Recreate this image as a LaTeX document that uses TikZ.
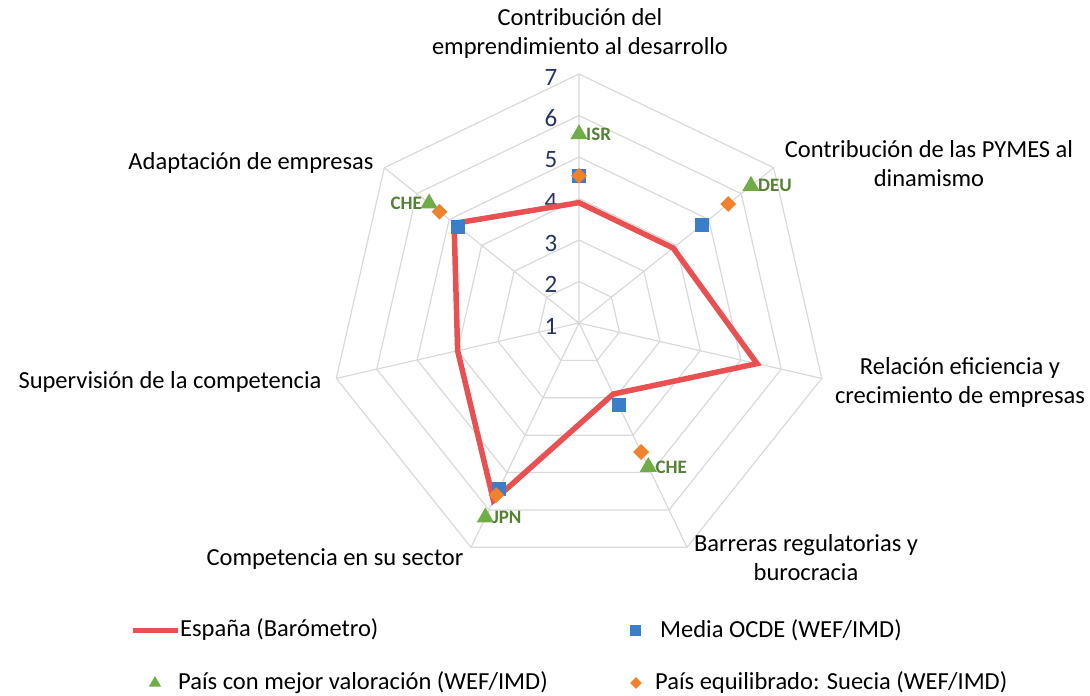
\documentclass[tikz,border=0pt]{standalone}
\usepackage{fontspec}
\setmainfont{Carlito}
\usetikzlibrary{shapes.geometric}
\definecolor{gridgray}{RGB}{217,217,217}
\definecolor{espred}{RGB}{233,80,82}
\definecolor{ocdeblue}{RGB}{58,125,200}
\definecolor{sueorange}{RGB}{240,130,45}
\definecolor{bestgreen}{RGB}{112,173,71}
\definecolor{codegreen}{RGB}{84,130,53}
\definecolor{scalenavy}{RGB}{38,52,102}
\begin{document}
\begin{tikzpicture}[x=1pt,y=-1pt,
	axislabel/.style={font=\fontsize{24.5}{29}\selectfont,align=center},
	legtext/.style={font=\fontsize{24.5}{29}\selectfont,anchor=west,inner sep=0pt},
	sq/.style={rectangle,fill=ocdeblue,minimum size=14pt,inner sep=0pt},
	dmd/.style={diamond,fill=sueorange,minimum size=16pt,inner sep=0pt},
	tri/.style={regular polygon,regular polygon sides=3,fill=bestgreen,minimum size=20pt,inner sep=0pt},
	ctry/.style={text=codegreen,font=\fontsize{19}{19}\bfseries\selectfont,inner sep=1pt}]
		\useasboundingbox (0,0) rectangle (1090,696);
		\coordinate (O) at (579,323);
		\begin{scope}[shift={(O)}]
		% web
		\foreach \r in {1,...,6}
		\draw[gridgray,line width=1.2pt] (-90:{41.5*\r}) \foreach \k in {1,...,6}{-- ({-90+\k*360/7}:{41.5*\r})} -- cycle;
		\foreach \k in {1,...,7}
		\coordinate (ax\k) at ({-90+(\k-1)*360/7}:249);
		\draw[gridgray,line width=1.2pt] \foreach \k in {1,...,7}{(O)--(ax\k)};
		\foreach \n in {1,...,7}
		\node[text=scalenavy,font=\fontsize{25}{25}\selectfont] (s\n) at (-28,{-(\n-1)*41.5+3}) {\n};
		% Espana
		\foreach \v [count=\k] in {3.9,3.9,5.4,2.9,5.75,4.0,4.85}
		\coordinate (es\k) at ({-90+(\k-1)*360/7}:{(\v-1)*41.5});
		\draw[espred,line width=5.5pt,line join=miter] (es1) \foreach \k in {2,...,7}{-- (es\k)} -- cycle;
		% OCDE, Suecia, mejor pais
		\foreach \k/\v in {1/4.55,2/4.78,4/3.2,5/5.45,7/4.72}
		\node[sq] (oc\k) at ({-90+(\k-1)*360/7}:{(\v-1)*41.5}) {};
		\foreach \k/\v in {1/4.55,2/5.6,4/4.45,5/5.6,7/5.3}
		\node[dmd] (se\k) at ({-90+(\k-1)*360/7}:{(\v-1)*41.5}) {};
		\foreach \k/\v/\c/\s in {1/5.55/ISR/right,2/6.3/DEU/right,4/4.85/CHE/right,5/6.2/JPN/right,7/5.62/CHE/left}
		\node[tri,label={[ctry]\s:\c}] (be\k) at ({-90+(\k-1)*360/7}:{(\v-1)*41.5}) {};
		\end{scope}
		% axis names
		\node[axislabel] (lab1) at (580,33) {Contribución del\\emprendimiento al desarrollo};
		\node[axislabel] (lab2) at (929,164) {Contribución de las PYMES al\\dinamismo};
		\node[axislabel] (lab3) at (960,382) {Relación eficiencia y\\crecimiento de empresas};
		\node[axislabel] (lab4) at (806,558) {Barreras regulatorias y\\burocracia};
		\node[axislabel] (lab5) at (335,559) {Competencia en su sector};
		\node[axislabel] (lab6) at (170,382) {Supervisión de la competencia};
		\node[axislabel] (lab7) at (251,163) {Adaptación de empresas};
		% legend
		\coordinate (lg1a) at (133,630);
		\coordinate (lg1b) at (178,630);
		\draw[espred,line width=5pt] (lg1a) -- (lg1b);
		\node[legtext] (lt1) at (180,630) {España (Barómetro)};
		\node[sq,minimum size=11pt] (lm2) at (635,630) {};
		\node[legtext] (lt2) at (660,630) {Media OCDE (WEF/IMD)};
		\node[tri,minimum size=14pt] (lm3) at (155,683) {};
		\node[legtext] (lt3) at (178,683) {País con mejor valoración (WEF/IMD)};
		\node[dmd,minimum size=12pt] (lm4) at (636,683) {};
		\node[legtext] (lt4) at (655,683) {País equilibrado: Suecia (WEF/IMD)};
		\end{tikzpicture}
\end{document}
